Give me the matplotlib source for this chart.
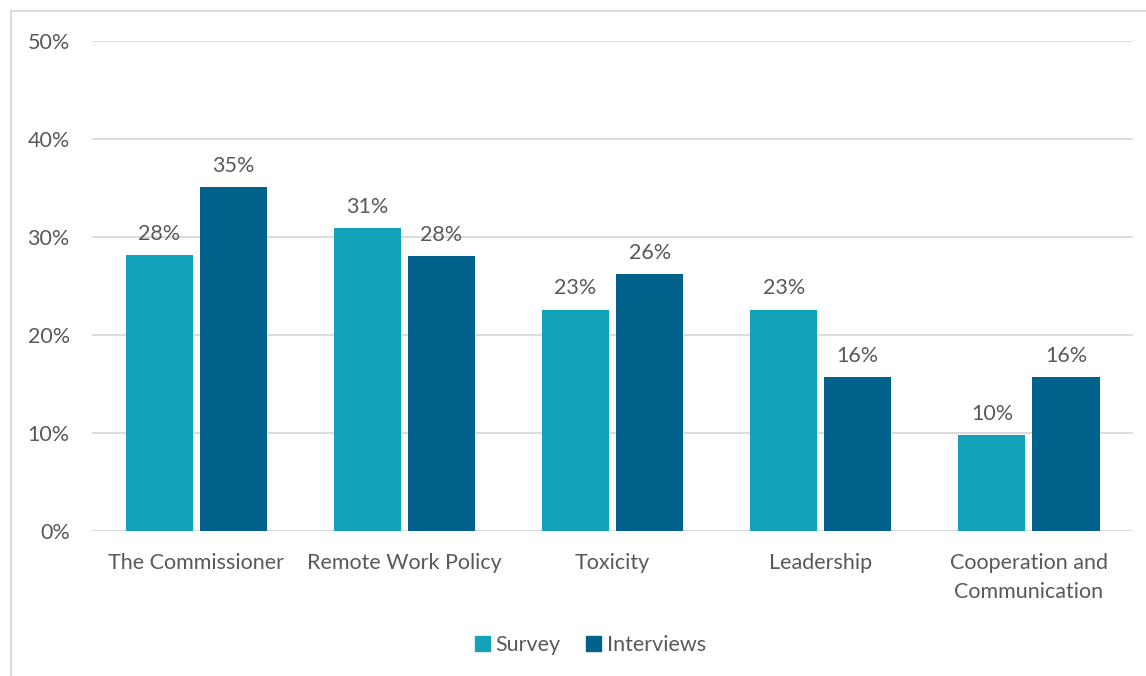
import numpy as np
import matplotlib as mpl
mpl.use("Agg")
import matplotlib.pyplot as plt
from matplotlib.lines import Line2D
from matplotlib.patches import Rectangle

categories = ["The Commissioner", "Remote Work Policy", "Toxicity",
              "Leadership", "Cooperation and\nCommunication"]
survey = [0.282, 0.309, 0.226, 0.226, 0.098]
interviews = [0.351, 0.281, 0.262, 0.157, 0.157]
yticks = [0.0, 0.1, 0.2, 0.3, 0.4, 0.5]

c_survey = "#14A2BA"
c_interviews = "#00618B"
c_text = "#595959"
c_grid = "#D9D9D9"
fs = 15.5

mpl.rc("font", family=["Lato", "DejaVu Sans"], size=fs)

fig = plt.figure(figsize=(11.46, 6.76), dpi=100)
ax = fig.add_axes([0.0803, 0.2145, 0.9084, 0.7248])

x = np.arange(len(categories))
w = 0.322
off = 0.178
b1 = ax.bar(x - off, survey, w, color=c_survey, zorder=3)
b2 = ax.bar(x + off, interviews, w, color=c_interviews, zorder=3)

for bars, vals in ((b1, survey), (b2, interviews)):
    for r, v in zip(bars, vals):
        ax.annotate("%d%%" % round(v * 100),
                    (r.get_x() + r.get_width() / 2, v),
                    xytext=(0, 8), textcoords="offset points",
                    ha="center", va="bottom", color=c_text, fontsize=fs)

ax.set_xlim(-0.5, len(categories) - 0.5)
ax.set_ylim(0, 0.5)
ax.set_yticks(yticks)
ax.set_yticklabels(["%d%%" % round(t * 100) for t in yticks])
ax.set_xticks(x)
ax.set_xticklabels(categories, linespacing=1.55)
ax.tick_params(axis="both", length=0, colors=c_text, labelsize=fs)
ax.tick_params(axis="y", pad=16)
ax.tick_params(axis="x", pad=16)
ax.yaxis.grid(True, color=c_grid, linewidth=1.3, zorder=0)
for s in ax.spines.values():
    s.set_visible(False)

handles = [Rectangle((0, 0), 1, 1, color=c_survey),
           Rectangle((0, 0), 1, 1, color=c_interviews)]
leg = fig.legend(handles, ["Survey", "Interviews"], loc="center",
                 bbox_to_anchor=(0.515, 0.046), ncol=2, frameon=False,
                 handlelength=0.7, handleheight=0.7, handletextpad=0.25,
                 columnspacing=1.2, fontsize=fs)
for t in leg.get_texts():
    t.set_color(c_text)

# outer frame: only the top and left edges show
fig.add_artist(Line2D([11 / 1146, 1], [1 - 11 / 676] * 2,
                      transform=fig.transFigure, color=c_grid, lw=1.3))
fig.add_artist(Line2D([11 / 1146] * 2, [0, 1 - 11 / 676],
                      transform=fig.transFigure, color=c_grid, lw=1.3))

fig.savefig("out.png", dpi=100, facecolor="white")
